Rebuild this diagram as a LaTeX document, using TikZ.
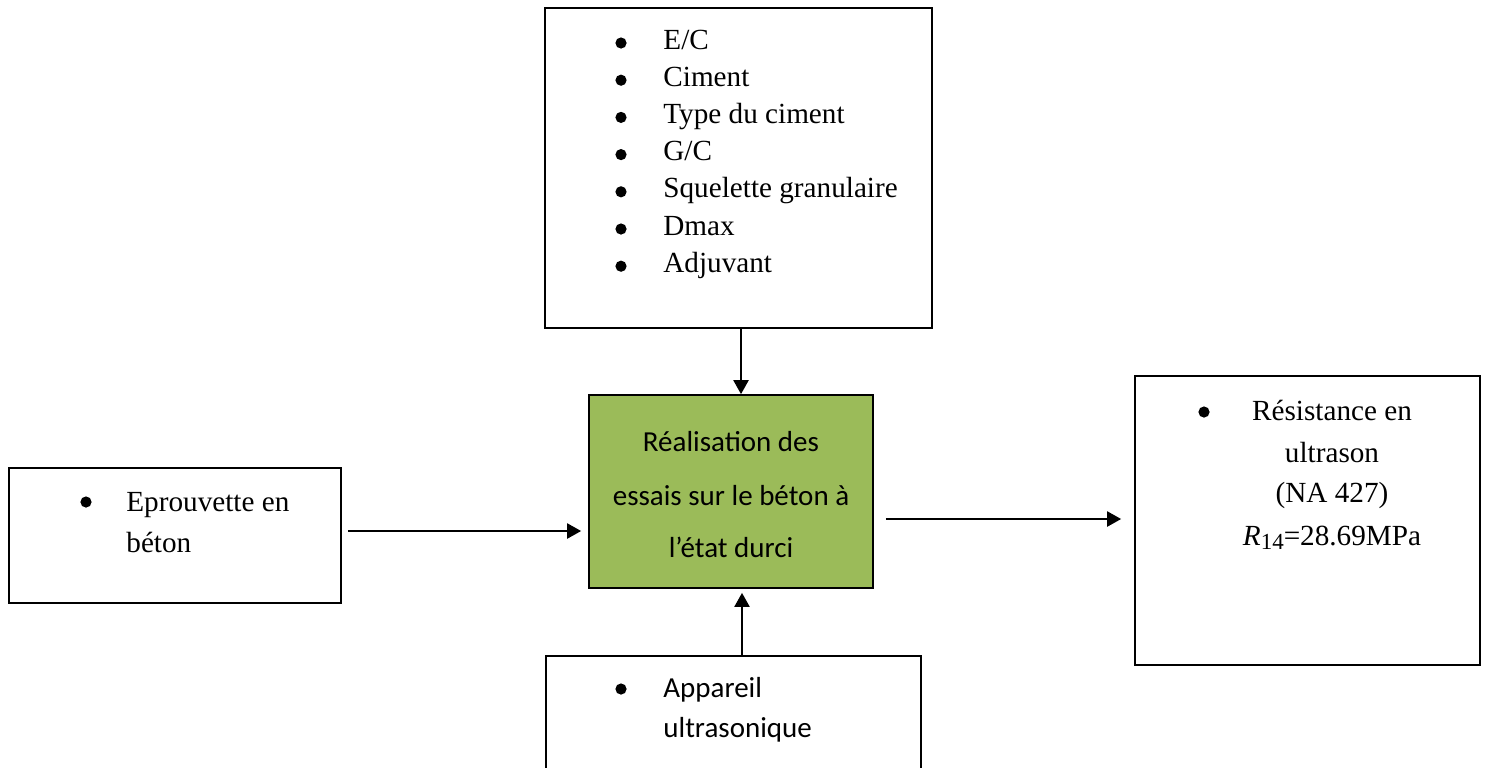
\documentclass[tikz,border=0pt]{standalone}
\usepackage{fontspec}
\setmainfont{Liberation Serif}
\newfontfamily\calibri{Carlito}
\usetikzlibrary{arrows.meta}
\definecolor{boxgreen}{HTML}{9BBB59}
\begin{document}
\begin{tikzpicture}[x=0.5pt,y=-0.5pt,
  box/.style={draw=black, line width=0.85pt, rectangle, inner sep=0pt},
  arr/.style={line width=1.1pt, -{Triangle[length=7pt,width=7.5pt]}},
  tt/.style={anchor=base west, inner sep=0pt, font=\fontsize{14.6}{17}\selectfont},
  tc/.style={anchor=base, inner sep=0pt, font=\fontsize{14.6}{17}\selectfont},
  cc/.style={anchor=base, inner sep=0pt, font=\calibri\fontsize{14.5}{17}\selectfont},
  cw/.style={anchor=base west, inner sep=0pt, font=\calibri\fontsize{14.5}{17}\selectfont},
  bul/.style={circle, fill=black, inner sep=0pt, minimum size=5.6pt}]
\useasboundingbox (0,0) rectangle (1486,767);
\begin{scope}
\clip (0,0) rectangle (1486,767);
% boxes
\node[box, minimum width=193.5pt, minimum height=160pt] (top) at (738.5,168) {};
\node[box, fill=boxgreen, minimum width=142pt, minimum height=96.5pt] (ctr) at (731,491.5) {};
\node[box, minimum width=172.5pt, minimum height=144.5pt] (rgt) at (1307.5,520.5) {};
\node[box, minimum width=166pt, minimum height=67.5pt] (lft) at (175,535.5) {};
\node[box, minimum width=187.5pt, minimum height=75pt] (bot) at (733.5,731) {};
\end{scope}
% top box list
\foreach \t [count=\i] in {E/C,Ciment,Type du ciment,G/C,Squelette granulaire,Dmax,Adjuvant}{
  \node[bul] (tb\i) at (621,{43+37.2*(\i-1)}) {};
  \node[tt] (tl\i) at (663,{49+37.2*(\i-1)}) {\t};
}
% center text
\node[cc] (c1) at (731,451) {Réalisation des};
\node[cc] (c2) at (731,505) {essais sur le béton à};
\node[cc] (c3) at (731,557) {l’état durci};
% left box
\node[bul] (lb) at (86,502) {};
\node[tt] (l1) at (126,511) {Eprouvette en};
\node[tt] (l2) at (126,552) {béton};
% right box
\node[bul] (rb) at (1204,412) {};
\node[tc] (r1) at (1332,420) {Résistance en};
\node[tc] (r2) at (1332,462) {ultrason};
\node[tc] (r3) at (1332,502) {(NA 427)};
\node[tc] (r4) at (1332,545) {\textit{R}\raisebox{-0.3ex}{\fontsize{11.5}{13}\selectfont 14}=28.69MPa};
% bottom box
\node[bul] (bb) at (621,689) {};
\node[cw] (b1) at (663,697) {Appareil};
\node[cw] (b2) at (663,737) {ultrasonique};
% connectors
\coordinate (vx) at (741,0);
\coordinate (vb) at (742,0);
\coordinate (ly) at (0,531);
\coordinate (ry) at (0,519);
\draw[arr] (top.south -| vx) -- (ctr.north -| vx);
\draw[arr] (bot.north -| vb) -- ([yshift=-2pt]ctr.south -| vb);
\draw[arr] ([xshift=3pt]lft.east |- ly) -- ([xshift=-3.5pt]ctr.west |- ly);
\draw[arr] ([xshift=6pt]ctr.east |- ry) -- ([xshift=-6.5pt]rgt.west |- ry);
\end{tikzpicture}
\end{document}
